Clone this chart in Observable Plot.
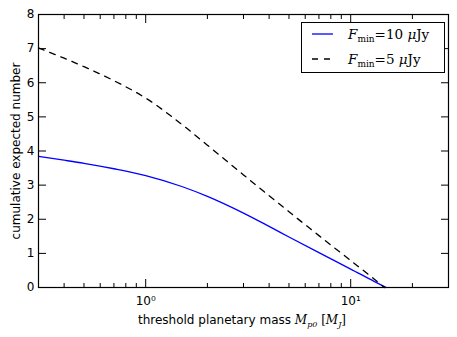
<!DOCTYPE html>
<html><head><meta charset="utf-8">
<script src="https://cdn.jsdelivr.net/npm/d3@7"></script>
<script src="https://cdn.jsdelivr.net/npm/@observablehq/plot@0.6"></script>
<style>body{margin:0;background:#fff}</style>
</head><body><div id="chart"></div>
<script>
// threshold planetary mass [M_J]
const masses10 = [0.3, 0.4, 0.5, 0.7, 1, 1.5, 2, 3, 4, 5, 7, 10, 13, 14.9];
const counts10 = [3.84, 3.73, 3.64, 3.48, 3.28, 2.96, 2.67, 2.18, 1.79, 1.48, 1.02, 0.54, 0.18, 0.0];
const masses5 = [0.3, 0.4, 0.5, 0.7, 1, 1.5, 2, 3, 4, 5, 7, 10, 13, 14.6];
const counts5 = [7.02, 6.72, 6.47, 6.06, 5.55, 4.78, 4.17, 3.30, 2.69, 2.22, 1.52, 0.79, 0.25, 0.0];
const yTicks = [0, 1, 2, 3, 4, 5, 6, 7, 8];
const xMajor = [1, 10];
const xMajorLabels = ["10⁰", "10¹"];
const xMinor = [0.3, 0.4, 0.5, 0.6, 0.7, 0.8, 0.9, 2, 3, 4, 5, 6, 7, 8, 9, 20, 30];

const rows10 = masses10.map((m, i) => ({m, n: counts10[i]}));
const rows5 = masses5.map((m, i) => ({m, n: counts5[i]}));
const blank = () => "";

const plot = Plot.plot({
  width: 457, height: 337,
  marginLeft: 38, marginRight: 9, marginTop: 14, marginBottom: 50,
  style: {fontFamily: "DejaVu Sans", fontSize: "12px", color: "#000", background: "#fff"},
  x: {type: "log", domain: [0.3, 30]},
  y: {domain: [0, 8]},
  marks: [
    Plot.line(rows10, {x: "m", y: "n", stroke: "#0000ff", strokeWidth: 1.3, curve: "monotone-x"}),
    Plot.line(rows5, {x: "m", y: "n", stroke: "#000", strokeWidth: 1.3, strokeDasharray: "6,6", curve: "monotone-x"}),
    // inward ticks, all four sides
    Plot.axisX({anchor: "bottom", ticks: xMajor, tickSize: 8, dy: -8, tickFormat: blank, label: null}),
    Plot.axisX({anchor: "top", ticks: xMajor, tickSize: 8, dy: 8, tickFormat: blank, label: null}),
    Plot.axisX({anchor: "bottom", ticks: xMinor, tickSize: 4, dy: -4, tickFormat: blank, label: null}),
    Plot.axisX({anchor: "top", ticks: xMinor, tickSize: 4, dy: 4, tickFormat: blank, label: null}),
    Plot.axisY({anchor: "left", ticks: yTicks, tickSize: 8, dx: 8, tickFormat: blank, label: null}),
    Plot.axisY({anchor: "right", ticks: yTicks, tickSize: 8, dx: -8, tickFormat: blank, label: null}),
    // tick labels
    Plot.axisX({anchor: "bottom", ticks: xMajor, tickSize: 0, tickPadding: 9,
      tickFormat: d => xMajorLabels[xMajor.indexOf(d)], label: null, fontSize: 12}),
    Plot.axisY({anchor: "left", ticks: yTicks, tickSize: 0, tickPadding: 4,
      tickFormat: d => String(d), label: null, fontSize: 12}),
    Plot.frame({stroke: "#000", strokeWidth: 1.2})
  ]
});

const svg = d3.select(plot);
// y label
svg.append("text")
  .attr("transform", "translate(20,151) rotate(-90)")
  .attr("text-anchor", "middle")
  .attr("font-family", "DejaVu Sans").attr("font-size", 12)
  .text("cumulative expected number");
// x label
const xl = svg.append("text")
  .attr("x", 242).attr("y", 324)
  .attr("text-anchor", "middle")
  .attr("font-family", "DejaVu Sans").attr("font-size", 12);
xl.append("tspan").text("threshold planetary mass ");
xl.append("tspan").attr("font-family", "DejaVu Serif").attr("font-style", "italic").text("M");
xl.append("tspan").attr("font-family", "DejaVu Serif").attr("font-style", "italic").attr("font-size", 8).attr("dy", 3).text("p0");
xl.append("tspan").attr("font-family", "DejaVu Serif").attr("dy", -3).text(" [");
xl.append("tspan").attr("font-family", "DejaVu Serif").attr("font-style", "italic").text("M");
xl.append("tspan").attr("font-family", "DejaVu Serif").attr("font-style", "italic").attr("font-size", 8).attr("dy", 3).text("J");
xl.append("tspan").attr("font-family", "DejaVu Serif").attr("dy", -3).text("]");

// legend
const lg = svg.append("g").attr("text-anchor", "start");
lg.append("rect").attr("x", 301.5).attr("y", 22.5).attr("width", 143).attr("height", 50)
  .attr("fill", "#fff").attr("stroke", "#000").attr("stroke-width", 1);
const entries = [
  {val: "10", stroke: "#0000ff", dash: null, y: 34},
  {val: "5", stroke: "#000", dash: "6,6", y: 59}
];
entries.forEach(e => {
  lg.append("line").attr("x1", 312).attr("x2", 333).attr("y1", e.y).attr("y2", e.y)
    .attr("stroke", e.stroke).attr("stroke-width", 1.3).attr("stroke-dasharray", e.dash);
  const t = lg.append("text").attr("x", 348).attr("y", e.y + 5)
    .attr("font-family", "DejaVu Serif").attr("font-size", 13.5);
  t.append("tspan").attr("font-style", "italic").text("F");
  t.append("tspan").attr("font-size", 9).attr("dy", 3).text("min");
  t.append("tspan").attr("dy", -3).text("=" + e.val + " ");
  t.append("tspan").attr("font-style", "italic").text("μ");
  t.append("tspan").text("Jy");
});

document.getElementById("chart").appendChild(plot);
</script>
</body></html>
